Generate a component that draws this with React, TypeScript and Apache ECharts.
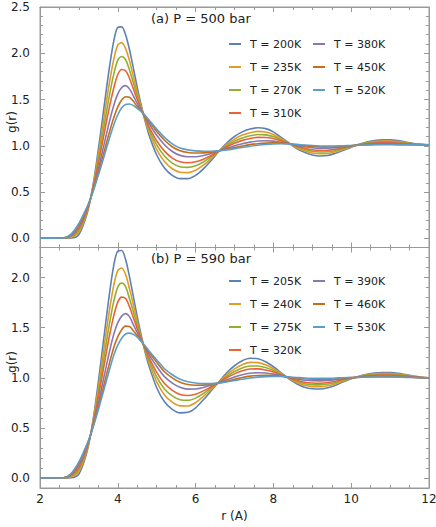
import React, { useEffect, useRef } from "react";
import * as echarts from "echarts";

const R = [2.0, 2.6, 2.8, 3.0, 3.2, 3.3, 3.4, 3.5, 3.6, 3.7, 3.8, 3.9, 4.0, 4.1, 4.2, 4.3, 4.4, 4.5, 4.6, 4.7, 4.8,
  5.0, 5.2, 5.4, 5.6, 5.8, 6.0, 6.2, 6.4, 6.6, 6.8, 7.0, 7.2, 7.4, 7.6, 7.8, 8.0, 8.2, 8.4, 8.6, 8.8,
  9.0, 9.2, 9.4, 9.6, 9.8, 10.0, 10.2, 10.4, 10.6, 10.8, 11.0, 11.2, 11.4, 11.6, 11.8, 12.0];

const TOP_LABELS = ["T = 200K", "T = 235K", "T = 270K", "T = 310K", "T = 380K", "T = 450K", "T = 520K"];
const BOTTOM_LABELS = ["T = 205K", "T = 240K", "T = 275K", "T = 320K", "T = 390K", "T = 460K", "T = 530K"];

// Panel (a) P = 500 bar
const A_T200 = [0, 0, 0.002, 0.04, 0.25, 0.43, 0.67, 0.96, 1.27, 1.59, 1.89, 2.14, 2.28, 2.285, 2.20, 2.04, 1.84, 1.63, 1.44, 1.27, 1.12,
  0.90, 0.76, 0.68, 0.645, 0.645, 0.68, 0.75, 0.84, 0.94, 1.03, 1.10, 1.15, 1.18, 1.195, 1.185, 1.15, 1.09, 1.03, 0.97, 0.93,
  0.90, 0.89, 0.895, 0.92, 0.95, 0.985, 1.015, 1.04, 1.055, 1.063, 1.063, 1.055, 1.04, 1.025, 1.015, 1.01];
const A_T235 = [0, 0.001, 0.011, 0.065, 0.267, 0.43, 0.645, 0.901, 1.175, 1.458, 1.72, 1.94, 2.09, 2.115, 2.05, 1.92, 1.75, 1.58, 1.42, 1.283, 1.154,
  0.959, 0.829, 0.751, 0.714, 0.710, 0.736, 0.790, 0.861, 0.941, 1.014, 1.072, 1.115, 1.141, 1.155, 1.149, 1.122, 1.076, 1.028, 0.979, 0.946,
  0.921, 0.913, 0.916, 0.936, 0.961, 0.989, 1.013, 1.033, 1.046, 1.052, 1.052, 1.046, 1.034, 1.022, 1.014, 1.01];
const A_T270 = [0, 0.001, 0.019, 0.087, 0.281, 0.43, 0.623, 0.851, 1.095, 1.344, 1.58, 1.78, 1.925, 1.965, 1.93, 1.82, 1.68, 1.54, 1.407, 1.293, 1.182,
  1.009, 0.889, 0.813, 0.774, 0.766, 0.783, 0.824, 0.879, 0.942, 1.001, 1.049, 1.084, 1.108, 1.121, 1.118, 1.099, 1.063, 1.026, 0.988, 0.960,
  0.940, 0.932, 0.935, 0.950, 0.970, 0.992, 1.011, 1.028, 1.037, 1.043, 1.043, 1.037, 1.028, 1.019, 1.013, 1.01];
const A_T310 = [0, 0.002, 0.026, 0.106, 0.294, 0.43, 0.604, 0.806, 1.022, 1.243, 1.45, 1.63, 1.77, 1.825, 1.81, 1.73, 1.615, 1.50, 1.397, 1.303, 1.208,
  1.054, 0.942, 0.867, 0.827, 0.816, 0.826, 0.855, 0.895, 0.943, 0.989, 1.027, 1.058, 1.078, 1.091, 1.090, 1.078, 1.053, 1.025, 0.995, 0.973,
  0.956, 0.949, 0.951, 0.963, 0.978, 0.995, 1.010, 1.022, 1.030, 1.034, 1.034, 1.030, 1.024, 1.017, 1.012, 1.01];
const A_T380 = [0, 0.002, 0.035, 0.131, 0.311, 0.43, 0.579, 0.747, 0.928, 1.111, 1.287, 1.441, 1.56, 1.63, 1.65, 1.615, 1.54, 1.455, 1.384, 1.316, 1.242,
  1.113, 1.011, 0.938, 0.896, 0.881, 0.881, 0.894, 0.916, 0.944, 0.973, 1.0, 1.022, 1.039, 1.051, 1.054, 1.050, 1.038, 1.022, 1.004, 0.989,
  0.978, 0.972, 0.973, 0.979, 0.988, 0.999, 1.008, 1.016, 1.021, 1.023, 1.023, 1.021, 1.017, 1.014, 1.011, 1.01];
const A_T450 = [0, 0.003, 0.041, 0.149, 0.323, 0.43, 0.561, 0.705, 0.861, 1.017, 1.170, 1.309, 1.42, 1.495, 1.53, 1.525, 1.48, 1.423, 1.375, 1.325, 1.266,
  1.155, 1.060, 0.989, 0.945, 0.927, 0.921, 0.923, 0.931, 0.945, 0.962, 0.980, 0.997, 1.012, 1.022, 1.028, 1.031, 1.028, 1.021, 1.011, 1.001,
  0.993, 0.988, 0.988, 0.991, 0.996, 1.001, 1.007, 1.011, 1.014, 1.016, 1.016, 1.014, 1.013, 1.011, 1.010, 1.01];
const A_T520 = [0, 0.003, 0.045, 0.16, 0.33, 0.43, 0.55, 0.68, 0.82, 0.96, 1.10, 1.23, 1.335, 1.41, 1.447, 1.452, 1.435, 1.405, 1.37, 1.33, 1.28,
  1.18, 1.09, 1.02, 0.975, 0.955, 0.945, 0.94, 0.94, 0.945, 0.955, 0.968, 0.982, 0.995, 1.005, 1.013, 1.019, 1.022, 1.02, 1.015, 1.008,
  1.002, 0.998, 0.997, 0.998, 1.0, 1.003, 1.006, 1.008, 1.01, 1.011, 1.011, 1.01, 1.01, 1.01, 1.01, 1.01];

// Panel (b) P = 590 bar
const B_T205 = [0, 0, 0.002, 0.04, 0.25, 0.43, 0.67, 0.96, 1.27, 1.58, 1.88, 2.13, 2.265, 2.27, 2.18, 2.01, 1.81, 1.61, 1.43, 1.26, 1.12,
  0.90, 0.76, 0.685, 0.65, 0.655, 0.70, 0.78, 0.87, 0.96, 1.05, 1.12, 1.17, 1.195, 1.19, 1.16, 1.11, 1.05, 0.99, 0.94, 0.905,
  0.89, 0.888, 0.90, 0.925, 0.96, 0.99, 1.015, 1.035, 1.048, 1.053, 1.052, 1.045, 1.032, 1.018, 1.005, 1.0];
const B_T240 = [0, 0.001, 0.011, 0.065, 0.267, 0.43, 0.645, 0.901, 1.175, 1.450, 1.71, 1.93, 2.07, 2.095, 2.03, 1.89, 1.73, 1.563, 1.41, 1.273, 1.152,
  0.959, 0.829, 0.757, 0.720, 0.719, 0.752, 0.814, 0.885, 0.957, 1.031, 1.089, 1.131, 1.154, 1.151, 1.129, 1.090, 1.042, 0.994, 0.953, 0.925,
  0.912, 0.910, 0.920, 0.940, 0.968, 0.993, 1.013, 1.029, 1.039, 1.043, 1.043, 1.037, 1.026, 1.015, 1.004, 1.0];
const B_T275 = [0, 0.001, 0.019, 0.087, 0.281, 0.43, 0.623, 0.851, 1.095, 1.338, 1.57, 1.77, 1.905, 1.945, 1.91, 1.79, 1.66, 1.525, 1.397, 1.283, 1.179,
  1.009, 0.889, 0.820, 0.781, 0.774, 0.797, 0.843, 0.898, 0.955, 1.014, 1.062, 1.098, 1.118, 1.118, 1.102, 1.072, 1.035, 0.997, 0.965, 0.941,
  0.931, 0.929, 0.937, 0.953, 0.976, 0.995, 1.011, 1.024, 1.032, 1.035, 1.034, 1.030, 1.021, 1.012, 1.003, 1.0];
const B_T320 = [0, 0.002, 0.026, 0.106, 0.294, 0.43, 0.604, 0.806, 1.022, 1.239, 1.447, 1.625, 1.755, 1.805, 1.79, 1.71, 1.60, 1.49, 1.387, 1.293, 1.203,
  1.054, 0.942, 0.875, 0.834, 0.823, 0.836, 0.869, 0.910, 0.953, 1.0, 1.039, 1.069, 1.087, 1.089, 1.078, 1.057, 1.029, 1.0, 0.975, 0.956,
  0.948, 0.946, 0.952, 0.965, 0.982, 0.997, 1.009, 1.019, 1.025, 1.028, 1.027, 1.024, 1.017, 1.009, 1.003, 1.0];
const B_T390 = [0, 0.002, 0.035, 0.131, 0.311, 0.43, 0.579, 0.747, 0.928, 1.109, 1.285, 1.439, 1.55, 1.615, 1.64, 1.61, 1.53, 1.45, 1.374, 1.306, 1.234,
  1.113, 1.011, 0.947, 0.905, 0.887, 0.888, 0.903, 0.925, 0.950, 0.980, 1.008, 1.030, 1.045, 1.050, 1.047, 1.036, 1.021, 1.004, 0.988, 0.976,
  0.970, 0.969, 0.972, 0.980, 0.990, 0.999, 1.007, 1.013, 1.017, 1.018, 1.018, 1.015, 1.011, 1.006, 1.001, 1.0];
const B_T460 = [0, 0.003, 0.041, 0.149, 0.323, 0.43, 0.561, 0.705, 0.861, 1.016, 1.169, 1.308, 1.41, 1.48, 1.515, 1.512, 1.47, 1.42, 1.365, 1.315, 1.257,
  1.155, 1.060, 0.999, 0.955, 0.933, 0.926, 0.927, 0.936, 0.948, 0.966, 0.985, 1.003, 1.016, 1.023, 1.024, 1.022, 1.015, 1.006, 0.997, 0.990,
  0.986, 0.984, 0.986, 0.991, 0.996, 1.001, 1.005, 1.009, 1.011, 1.011, 1.011, 1.010, 1.007, 1.004, 1.0, 1.0];
const B_T530 = [0, 0.003, 0.045, 0.16, 0.33, 0.43, 0.55, 0.68, 0.82, 0.96, 1.10, 1.23, 1.325, 1.395, 1.437, 1.446, 1.433, 1.405, 1.365, 1.32, 1.27,
  1.18, 1.09, 1.03, 0.985, 0.96, 0.948, 0.942, 0.942, 0.947, 0.958, 0.972, 0.986, 0.998, 1.006, 1.011, 1.013, 1.012, 1.008, 1.003, 0.998,
  0.995, 0.994, 0.995, 0.997, 1.0, 1.002, 1.004, 1.006, 1.007, 1.007, 1.007, 1.006, 1.004, 1.002, 1.0, 1.0];

const TOP_SETS = [A_T200, A_T235, A_T270, A_T310, A_T380, A_T450, A_T520];
const BOTTOM_SETS = [B_T205, B_T240, B_T275, B_T320, B_T390, B_T460, B_T530];

const COLORS = ["#5E81B5", "#E19C24", "#8FB032", "#EB6235", "#8778B3", "#C56E1A", "#5D9EC7"];
const FONT = "'DejaVu Sans', Verdana, sans-serif";
const FRAME = "#999999";
const TEXT = "#222";

export default function App() {
  const ref = useRef<HTMLDivElement>(null);
  useEffect(() => {
    document.body.style.margin = "0";
    if (!ref.current) return;
    const chart = echarts.init(ref.current, null, { renderer: "svg" });

    const xAxisBase = (gridIndex: number, position: string, labels: boolean, name: string) => ({
      type: "value",
      gridIndex,
      position,
      min: 2,
      max: 12,
      interval: 2,
      name,
      nameLocation: "middle",
      nameGap: 22,
      nameMoveOverlap: false,
      nameTextStyle: { fontFamily: FONT, fontSize: 12, color: TEXT },
      axisLine: { show: true, onZero: false, lineStyle: { color: FRAME, width: 1 } },
      axisTick: { show: true, inside: true, length: 5, lineStyle: { color: FRAME } },
      minorTick: { show: true, splitNumber: 4, length: 3, lineStyle: { color: FRAME } },
      splitLine: { show: false },
      axisLabel: { show: labels, margin: 5, fontFamily: FONT, fontSize: 12, color: TEXT },
    });
    const yFmt = (v: number) => (Math.abs(v * 2 - Math.round(v * 2)) < 1e-6 ? v.toFixed(1) : "");
    const yAxisBase = (gridIndex: number, position: string, labels: boolean, max: number) => ({
      type: "value",
      gridIndex,
      position,
      min: -0.1,
      max,
      splitNumber: 5,
      axisLine: { show: true, onZero: false, lineStyle: { color: FRAME, width: 1 } },
      axisTick: { show: true, inside: true, length: 5, lineStyle: { color: FRAME } },
      minorTick: { show: true, splitNumber: 5, length: 3, lineStyle: { color: FRAME } },
      splitLine: { show: false },
      axisLabel: { show: labels, margin: 10, fontFamily: FONT, fontSize: 12, color: TEXT, formatter: yFmt },
    });

    const mkSeries = (sets: number[][], labels: string[], axisIndex: number) =>
      sets.map((vals, i) => ({
        type: "line",
        name: labels[i],
        xAxisIndex: axisIndex,
        yAxisIndex: axisIndex,
        data: R.map((r, j) => [r, vals[j]]),
        symbol: "none",
        showSymbol: false,
        smooth: 0.3,
        lineStyle: { width: 1.6, color: COLORS[i] },
        itemStyle: { color: COLORS[i] },
        z: 2 + i,
      }));

    const legend = (data: string[], left: number, top: number) => ({
      orient: "vertical",
      left,
      top,
      padding: 0,
      itemGap: 9,
      itemWidth: 12,
      itemHeight: 2,
      icon: "rect",
      selectedMode: false,
      data,
      textStyle: { fontFamily: FONT, fontSize: 11, color: TEXT, padding: [0, 0, 0, 4], lineHeight: 14 },
    });

    const yName = (y: number) => ({
      type: "text",
      x: 12,
      y,
      rotation: Math.PI / 2,
      style: { text: "g(r)", fontFamily: FONT, fontSize: 12, fill: TEXT, textAlign: "center", textVerticalAlign: "middle" },
    });

    chart.setOption({
      animation: false,
      backgroundColor: "#fff",
      color: COLORS,
      title: [
        { text: "(a) P = 500 bar", left: 151, top: 12, padding: 0, textStyle: { fontFamily: FONT, fontSize: 13, fontWeight: "normal", color: TEXT } },
        { text: "(b) P = 590 bar", left: 151, top: 252, padding: 0, textStyle: { fontFamily: FONT, fontSize: 13, fontWeight: "normal", color: TEXT } },
      ],
      legend: [
        legend(TOP_LABELS.slice(0, 4), 229, 37),
        legend(TOP_LABELS.slice(4), 313, 37),
        legend(BOTTOM_LABELS.slice(0, 4), 229, 274),
        legend(BOTTOM_LABELS.slice(4), 313, 274),
      ],
      graphic: [yName(122), yName(362)],
      grid: [
        { left: 40, top: 7, width: 389, height: 240.5, outerBoundsMode: "none", containLabel: false, show: true, borderColor: FRAME, borderWidth: 1, backgroundColor: "transparent" },
        { left: 40, top: 247.5, width: 389, height: 240.5, outerBoundsMode: "none", containLabel: false, show: true, borderColor: FRAME, borderWidth: 1, backgroundColor: "transparent" },
      ],
      xAxis: [
        xAxisBase(0, "bottom", false, ""),
        xAxisBase(0, "top", false, ""),
        xAxisBase(1, "bottom", true, "r (A)"),
        xAxisBase(1, "top", false, ""),
      ],
      yAxis: [
        yAxisBase(0, "left", true, 2.5),
        yAxisBase(0, "right", false, 2.5),
        yAxisBase(1, "left", true, 2.3),
        yAxisBase(1, "right", false, 2.3),
      ],
      series: [...mkSeries(TOP_SETS, TOP_LABELS, 0), ...mkSeries(BOTTOM_SETS, BOTTOM_LABELS, 2)],
    });
    return () => chart.dispose();
  }, []);
  return <div ref={ref} style={{ width: 436, height: 527 }} />;
}
